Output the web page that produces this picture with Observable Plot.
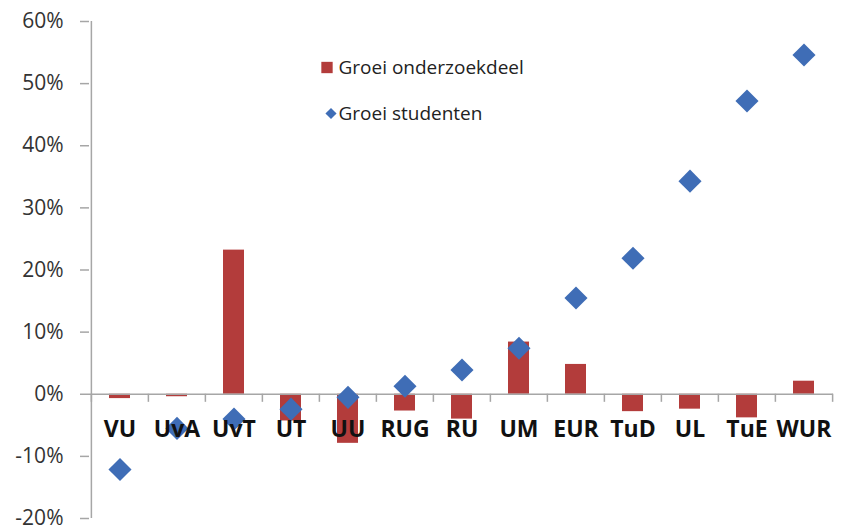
<!DOCTYPE html>
<html>
<head>
<meta charset="utf-8">
<script src="https://cdn.jsdelivr.net/npm/d3@7"></script>
<script src="https://cdn.jsdelivr.net/npm/@observablehq/plot@0.6"></script>
<style>
  html, body { margin: 0; padding: 0; background: #fff; }
  #chart svg { display: block; }
</style>
</head>
<body>
<div id="chart"></div>
<script>
const categories = ["VU","UvA","UvT","UT","UU","RUG","RU","UM","EUR","TuD","UL","TuE","WUR"];
const groeiOnderzoekdeel = [-0.7,-0.4,23.2,-4.3,-7.9,-2.7,-4.0,8.4,4.8,-2.8,-2.4,-3.8,2.1];
const groeiStudenten = [-12.1,-5.5,-4.0,-2.4,-0.5,1.3,3.9,7.4,15.5,21.9,34.3,47.2,54.6];
const yTicks = [-20,-10,0,10,20,30,40,50,60];
const legendLabels = ["Groei onderzoekdeel","Groei studenten"];

const barColor = "#b33c3b";
const dotColor = "#3f6db6";
const axisColor = "#a6a6a6";

const W = 844, H = 531;
const mL = 89, mR = 11, mT = 21, mB = 13;
const bw = (W - mL - mR) / categories.length;

const bars = categories.map((c, i) => ({cat: c, value: groeiOnderzoekdeel[i]}));
const dots = categories.map((c, i) => ({cat: c, value: groeiStudenten[i]}));

const font = "'Open Sans', 'Liberation Sans', sans-serif";

const chart = Plot.plot({
  width: W,
  height: H,
  marginLeft: mL,
  marginRight: mR,
  marginTop: mT,
  marginBottom: mB,
  style: {fontFamily: font, background: "#fff", overflow: "visible"},
  x: {domain: categories, padding: 0, axis: null},
  y: {domain: [-20, 60], ticks: yTicks, axis: null},
  marks: [
    Plot.barY(bars, {x: "cat", y: "value", fill: barColor, insetLeft: 18, insetRight: 18}),
    Plot.ruleY([0], {stroke: axisColor, strokeWidth: 1.5}),
    Plot.ruleX(categories, {x: d => d, y1: 0, y2: -1.3, dx: -bw / 2, stroke: axisColor, strokeWidth: 1.5}),
    Plot.ruleX([categories[categories.length - 1]], {x: d => d, y1: 0, y2: -1.3, dx: bw / 2, stroke: axisColor, strokeWidth: 1.5}),
    Plot.ruleX([categories[0]], {x: d => d, y1: -20, y2: 60, dx: -bw / 2, stroke: axisColor, strokeWidth: 1.5}),
    Plot.axisY({
      ticks: yTicks,
      tickFormat: d => d + "%",
      tickSize: 9,
      tickPadding: 17,
      fontSize: 21,
      stroke: axisColor,
      strokeWidth: 1.5,
      color: "#333",
      label: null
    }),
    Plot.dot(dots, {x: "cat", y: "value", symbol: "diamond2", r: 10.4, fill: dotColor, stroke: null}),
    Plot.text(categories, {x: d => d, y: 0, dy: 35, text: d => d, fontSize: 23, fontWeight: "bold", fill: "#111"}),
    Plot.dot([legendLabels[0]], {frameAnchor: "top-left", dx: 237.5, dy: 46, symbol: "square", r: 6.4, fill: barColor}),
    Plot.dot([legendLabels[1]], {frameAnchor: "top-left", dx: 241.5, dy: 92, symbol: "diamond2", r: 5, fill: dotColor}),
    Plot.text([legendLabels[0]], {frameAnchor: "top-left", lineAnchor: "middle", dx: 249, dy: 46, text: d => d, textAnchor: "start", fontSize: 19, fill: "#222"}),
    Plot.text([legendLabels[1]], {frameAnchor: "top-left", lineAnchor: "middle", dx: 249, dy: 92, text: d => d, textAnchor: "start", fontSize: 19, fill: "#222"})
  ]
});
document.getElementById("chart").appendChild(chart);
</script>
</body>
</html>
